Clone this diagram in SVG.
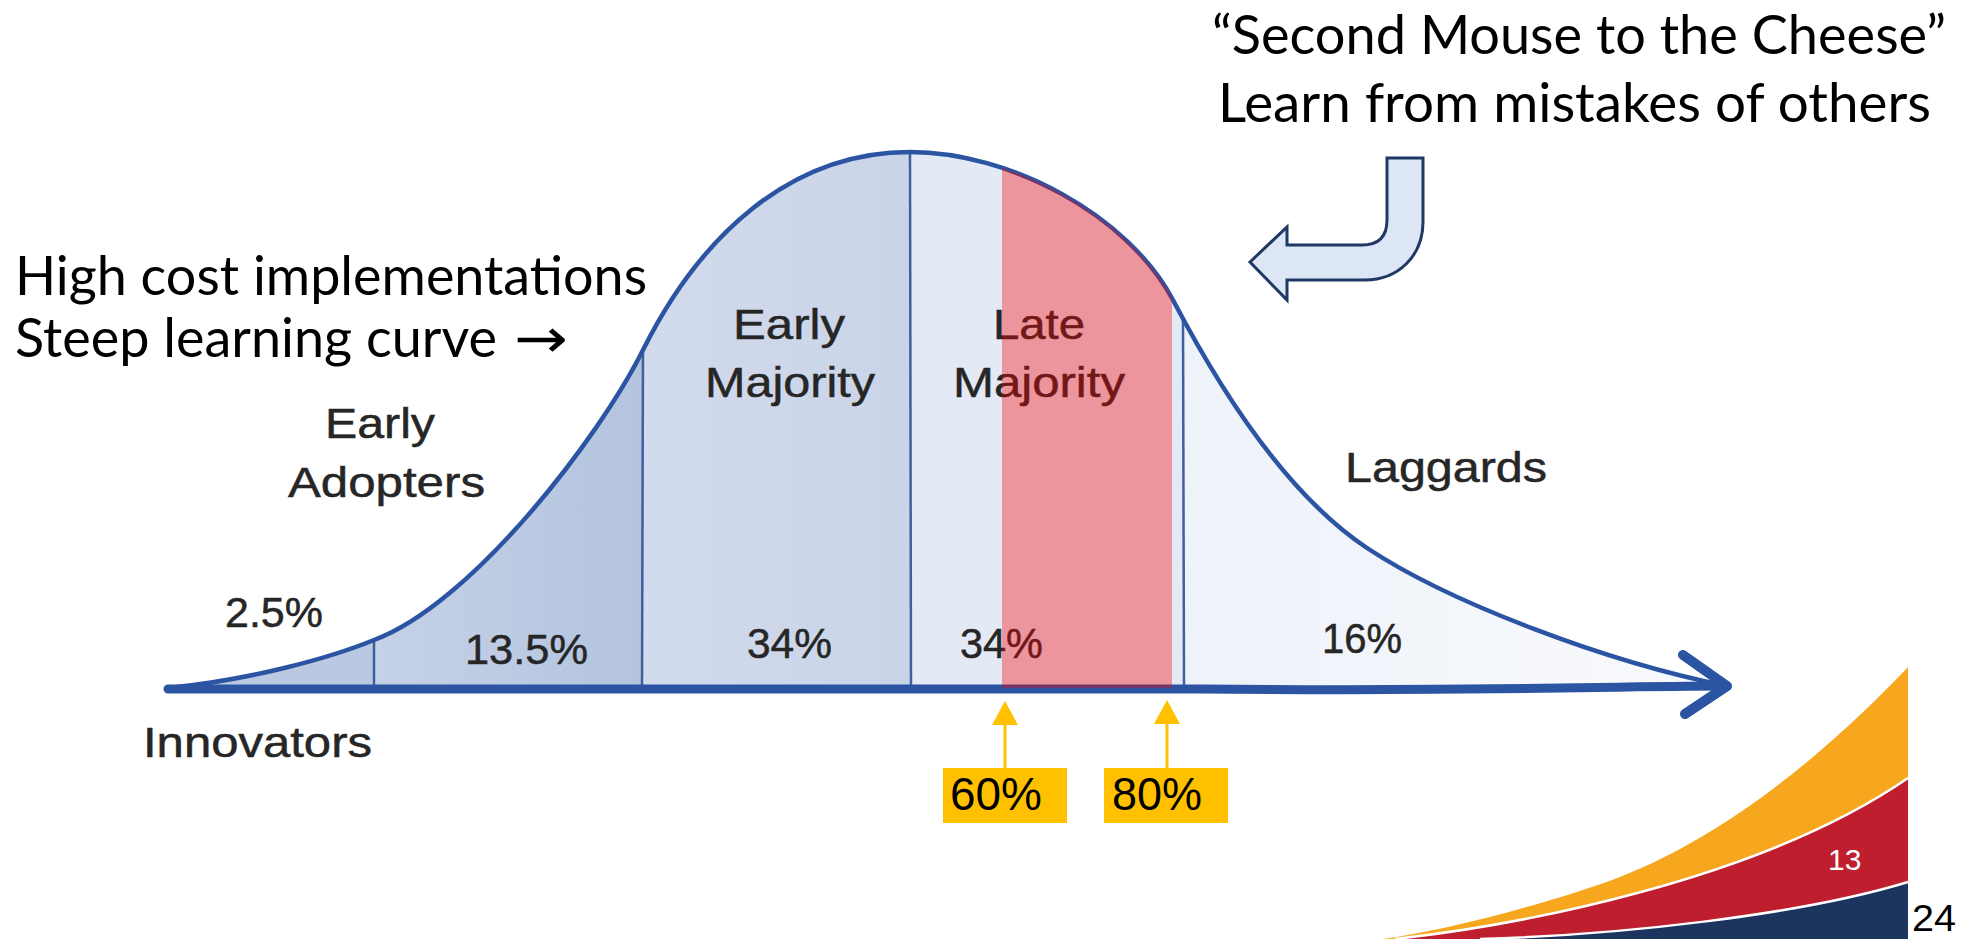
<svg xmlns="http://www.w3.org/2000/svg" width="1971" height="939" viewBox="0 0 1971 939">
  <style>
    .cal { font-family: Lato, "Open Sans", "Noto Sans", sans-serif; fill: #000; font-size: 54px; }
    .lbl { font-family: "Liberation Sans", Arial, sans-serif; fill: #262626; stroke: #262626; stroke-width: 0.5; font-size: 43px; }
    .tag { font-family: "Liberation Sans", Arial, sans-serif; fill: #000; font-size: 46px; }
    .div { stroke: #3f5f9f; stroke-width: 2.5; fill: none; }
    .ink { stroke: #2b54a3; fill: none; stroke-linecap: round; stroke-linejoin: round; }
    .pin { stroke: #ffc000; stroke-width: 3; }
    .seam { stroke: #fff; stroke-width: 2.5; fill: none; }
  </style>
  <defs>
    <!-- area between the bell curve and the axis -->
    <clipPath id="under">
      <path d="M168,688 C250,680 330,658 374,640 C470,605 598,440 643,350 C700,236 790,152 910,152 C1010,152 1128,215 1173,300 C1228,405 1292,498 1367,548 C1450,603 1607,662 1727,686 L1727,688 L168,688 Z"/>
    </clipPath>
    <linearGradient id="gEA" x1="374" y1="0" x2="643" y2="0" gradientUnits="userSpaceOnUse">
      <stop offset="0" stop-color="#c5d1e7"/>
      <stop offset="1" stop-color="#b4c4df"/>
    </linearGradient>
    <linearGradient id="gEM" x1="643" y1="0" x2="910" y2="0" gradientUnits="userSpaceOnUse">
      <stop offset="0" stop-color="#d2dbec"/>
      <stop offset="1" stop-color="#cad4e8"/>
    </linearGradient>
    <linearGradient id="gLag" x1="1183" y1="0" x2="1727" y2="0" gradientUnits="userSpaceOnUse">
      <stop offset="0" stop-color="#eef2f9"/>
      <stop offset="1" stop-color="#f9fafd"/>
    </linearGradient>
  </defs>

  <!-- segments under the curve -->
  <g id="segments" clip-path="url(#under)">
    <rect x="160" y="140" width="214" height="560" fill="#bac8e1"/>
    <rect x="374" y="140" width="269" height="560" fill="url(#gEA)"/>
    <rect x="643" y="140" width="267" height="560" fill="url(#gEM)"/>
    <rect x="910" y="140" width="273" height="560" fill="#e4eaf5"/>
    <rect x="1183" y="140" width="550" height="560" fill="url(#gLag)"/>
  </g>

  <!-- segment boundaries -->
  <g id="dividers">
    <line class="div" x1="374" y1="640" x2="374" y2="688"/>
    <line class="div" x1="643" y1="349" x2="642" y2="688"/>
    <line class="div" x1="910" y1="152" x2="911" y2="688"/>
    <line class="div" x1="1183" y1="318" x2="1184" y2="688"/>
  </g>

  <!-- bell curve, axis and arrowhead -->
  <g id="connectors">
    <path class="ink" stroke="#2e5399" stroke-width="4.5" d="M168,688 C250,680 330,658 374,640 C470,605 598,440 643,350 C700,236 790,152 910,152 C1010,152 1128,215 1173,300 C1228,405 1292,498 1367,548 C1450,603 1607,662 1727,686"/>
    <path class="ink" stroke-width="9" d="M168,689 C500,691 900,686 1200,689 S1600,686 1727,686"/>
    <path class="ink" stroke-width="10" d="M1683,655 L1727,686 L1685,714"/>
    <line class="pin" x1="1005" y1="768" x2="1005" y2="722"/>
    <polygon points="992,725 1018,725 1005,701" fill="#ffc000"/>
    <line class="pin" x1="1167" y1="768" x2="1167" y2="722"/>
    <polygon points="1154,724 1180,724 1167,700" fill="#ffc000"/>
  </g>

  <!-- group labels -->
  <g id="innovators">
    <text class="lbl" x="143" y="757" textLength="229" lengthAdjust="spacingAndGlyphs">Innovators</text>
    <text class="lbl" x="225" y="627" textLength="98" lengthAdjust="spacingAndGlyphs">2.5%</text>
  </g>
  <g id="early-adopters">
    <text class="lbl" x="325" y="438" textLength="110" lengthAdjust="spacingAndGlyphs">Early</text>
    <text class="lbl" x="288" y="497" textLength="197" lengthAdjust="spacingAndGlyphs">Adopters</text>
    <text class="lbl" x="465" y="664" textLength="123" lengthAdjust="spacingAndGlyphs">13.5%</text>
  </g>
  <g id="early-majority">
    <text class="lbl" x="733" y="339" textLength="112" lengthAdjust="spacingAndGlyphs">Early</text>
    <text class="lbl" x="705" y="397" textLength="170" lengthAdjust="spacingAndGlyphs">Majority</text>
    <text class="lbl" x="747" y="658" textLength="85" lengthAdjust="spacingAndGlyphs">34%</text>
  </g>
  <g id="late-majority">
    <text class="lbl" x="993" y="339" textLength="92" lengthAdjust="spacingAndGlyphs">Late</text>
    <text class="lbl" x="953" y="397" textLength="172" lengthAdjust="spacingAndGlyphs">Majority</text>
    <text class="lbl" x="960" y="658" textLength="83" lengthAdjust="spacingAndGlyphs">34%</text>
  </g>
  <g id="laggards">
    <text class="lbl" x="1345" y="482" textLength="202" lengthAdjust="spacingAndGlyphs">Laggards</text>
    <text class="lbl" x="1322" y="653" textLength="80" lengthAdjust="spacingAndGlyphs">16%</text>
  </g>

  <!-- highlighted 60-80% band, laid over the late majority -->
  <g id="band" clip-path="url(#under)">
    <rect x="1002" y="140" width="170" height="560" fill="#fa0000" fill-opacity="0.36"/>
  </g>

  <!-- percentile tags -->
  <g id="tag-60">
    <rect x="943" y="768" width="124" height="55" fill="#ffc000"/>
    <text class="tag" x="950" y="810" textLength="92" lengthAdjust="spacingAndGlyphs">60%</text>
  </g>
  <g id="tag-80">
    <rect x="1104" y="768" width="124" height="55" fill="#ffc000"/>
    <text class="tag" x="1112" y="810" textLength="90" lengthAdjust="spacingAndGlyphs">80%</text>
  </g>

  <!-- left note -->
  <g id="note-left">
    <text class="cal" x="15" y="295" textLength="632" lengthAdjust="spacingAndGlyphs">High cost implementations</text>
    <text class="cal" x="15" y="357" textLength="482" lengthAdjust="spacingAndGlyphs">Steep learning curve</text>
    <text x="514" y="357" font-family="'DejaVu Sans', sans-serif" font-size="54" fill="#000" textLength="54" lengthAdjust="spacingAndGlyphs">→</text>
  </g>

  <!-- right note with bent arrow -->
  <g id="note-right">
    <text class="cal" x="1212" y="54" textLength="734" lengthAdjust="spacingAndGlyphs">“Second Mouse to the Cheese”</text>
    <text class="cal" x="1218" y="122" textLength="713" lengthAdjust="spacingAndGlyphs">Learn from mistakes of others</text>
  </g>
  <g id="bent-arrow">
    <path d="M1250,262 L1287,227 L1287,245 L1362,245 Q1387,245 1387,220 L1387,158 L1423,158 L1423,222 C1423,256 1398,280 1365,280 L1287,280 L1287,300 Z" fill="#dce6f4" stroke="#203864" stroke-width="3" stroke-linejoin="miter"/>
  </g>

  <!-- corner swoosh and page numbers -->
  <g id="swoosh">
    <path d="M1383,939 C1450,930 1560,900 1620,877 C1720,838 1820,760 1908,667 L1908,939 Z" fill="#f6a71d"/>
    <path d="M1395,939 C1520,925 1760,880 1908,778 L1908,939 Z" fill="#be1e2d"/>
    <path d="M1480,939 C1620,935 1800,915 1908,882 L1908,939 Z" fill="#1c355e"/>
    <path class="seam" d="M1395,939 C1520,925 1760,880 1908,778"/>
    <path class="seam" d="M1480,939 C1620,935 1800,915 1908,882"/>
    <text x="1828" y="870" font-family="'Liberation Sans', Arial, sans-serif" font-size="30" fill="#fff">13</text>
  </g>
  <g id="page-number">
    <text x="1912" y="931" font-family="'Liberation Sans', Arial, sans-serif" font-size="37" fill="#000" textLength="44" lengthAdjust="spacingAndGlyphs">24</text>
  </g>
</svg>
